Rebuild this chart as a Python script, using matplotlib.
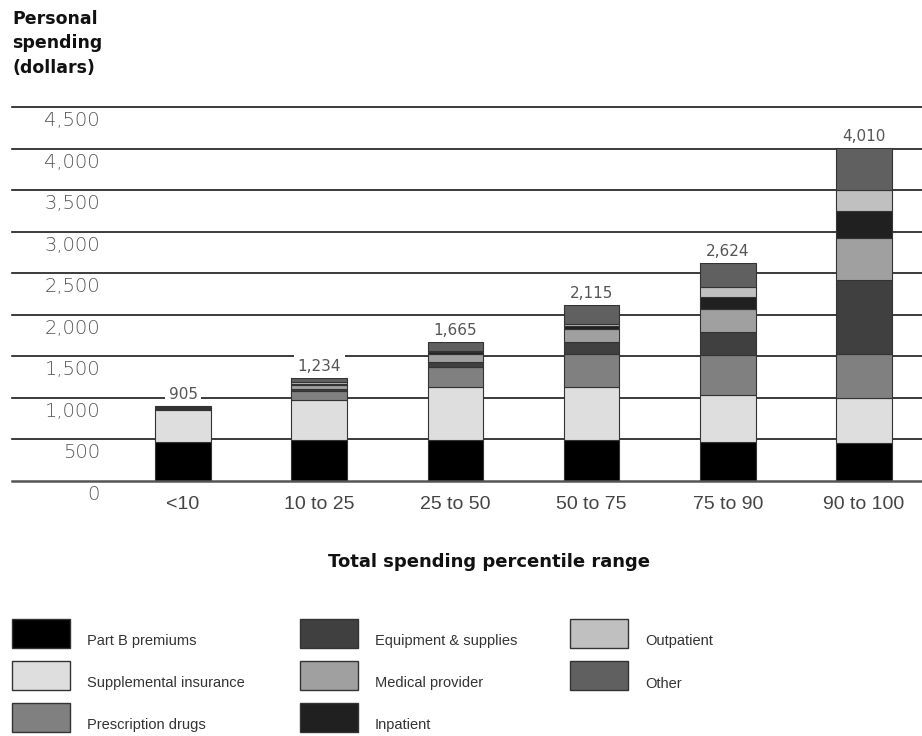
import matplotlib
matplotlib.use("Agg")
import matplotlib.pyplot as plt
from matplotlib.patches import Rectangle
from matplotlib.transforms import ScaledTranslation
import numpy as np

categories = ["<10", "10 to 25", "25 to 50", "50 to 75", "75 to 90", "90 to 100"]
totals = [905, 1234, 1665, 2115, 2624, 4010]
total_labels = ["905", "1,234", "1,665", "2,115", "2,624", "4,010"]

series_names = ["Part B premiums", "Supplemental insurance", "Prescription drugs",
                "Equipment & supplies", "Medical provider", "Inpatient",
                "Outpatient", "Other"]
part_b = [469, 490, 489, 489, 469, 449]
supplemental = [381, 480, 641, 641, 561, 547]
prescription = [15, 110, 245, 400, 481, 533]
equipment = [8, 25, 60, 140, 280, 891]
medical = [8, 45, 85, 157, 281, 508]
inpatient = [8, 15, 25, 35, 140, 320]
outpatient = [4, 25, 15, 30, 116, 249]
other = [12, 44, 105, 223, 296, 513]
series_values = [part_b, supplemental, prescription, equipment, medical,
                 inpatient, outpatient, other]
series_colors = ["#000000", "#dedede", "#808080", "#404040", "#a0a0a0",
                 "#202020", "#c0c0c0", "#606060"]

yticks = [0, 500, 1000, 1500, 2000, 2500, 3000, 3500, 4000, 4500]
ytick_labels = ["0", "500", "1,000", "1,500", "2,000", "2,500", "3,000",
                "3,500", "4,000", "4,500"]

W, H = 922, 736
fig = plt.figure(figsize=(W / 100, H / 100), dpi=100)
fig.patch.set_facecolor("white")

def fx(px):
    return px / W

def fy(py):
    return 1 - py / H

ax_left, ax_right = 12, 922
ax_bottom, ax_top = 480.7, 107
ax = fig.add_axes([fx(ax_left), fy(ax_bottom), fx(ax_right - ax_left),
                   (ax_bottom - ax_top) / H])

x = np.arange(len(categories))
spacing = 136.2
left_lim = -(183 - ax_left) / spacing
ax.set_xlim(left_lim, left_lim + (ax_right - ax_left) / spacing)
ax.set_ylim(0, 4500)

bottom = np.zeros(len(categories))
for vals, col in zip(series_values, series_colors):
    ax.bar(x, vals, bottom=bottom, width=0.407, color=col,
           edgecolor="#333333", linewidth=0.8, zorder=3)
    bottom += np.array(vals)

for t in yticks[1:]:
    ax.axhline(t, color="#1a1a1a", lw=1.2, zorder=1, clip_on=False)
ax.axhline(0, color="#555555", lw=1.8, zorder=4, clip_on=False)

# y tick labels below each gridline
ytrans = ax.get_yaxis_transform() + ScaledTranslation(0, -13.5 / 100, fig.dpi_scale_trans)
for t, lab in zip(yticks, ytick_labels):
    ax.text((100 - ax_left) / (ax_right - ax_left), t, lab, transform=ytrans,
            ha="right", va="center", fontsize=14, color="#555555",
            family="DejaVu Sans", fontweight="light")

# total labels
for xi, tot, lab in zip(x, bottom, total_labels):
    ax.annotate(lab, (xi, tot), xytext=(0, 5), textcoords="offset points",
                ha="center", va="baseline", fontsize=11, color="#555555",
                family="DejaVu Sans", zorder=5,
                bbox=dict(boxstyle="square,pad=0.25", fc="white", ec="none"))

ax.set_xticks(x, categories)
ax.set_yticks([])
ax.tick_params(axis="x", length=0, pad=11, labelsize=14, labelcolor="#444444")
for lab in ax.get_xticklabels():
    lab.set_family("Liberation Sans")
for s in ax.spines.values():
    s.set_visible(False)

# titles
fig.text(fx(12), fy(10), "Personal\nspending\n(dollars)", ha="left", va="top",
         fontsize=12.5, fontweight="bold", color="#111111", linespacing=1.45,
         family="DejaVu Sans")
fig.text(fx(489), fy(562), "Total spending percentile range", ha="center",
         va="center", fontsize=13, fontweight="bold", color="#111111",
         family="DejaVu Sans")

# legend
col_x = [12, 300, 570]
row_y = [619, 661, 703]
sw_w, sw_h = 58, 29
for i, (name, col) in enumerate(zip(series_names, series_colors)):
    c, r = divmod(i, 3)
    x0, y0 = col_x[c], row_y[r]
    fig.patches.append(Rectangle((fx(x0), fy(y0 + sw_h)), sw_w / W, sw_h / H,
                                 transform=fig.transFigure, facecolor=col,
                                 edgecolor="#333333", linewidth=1.0))
    fig.text(fx(x0 + sw_w + 17), fy(y0 + sw_h / 2 + 8), name, ha="left",
             va="center", fontsize=10.5, color="#333333",
             family="Liberation Sans")

fig.savefig("out.png", dpi=100, facecolor="white")
